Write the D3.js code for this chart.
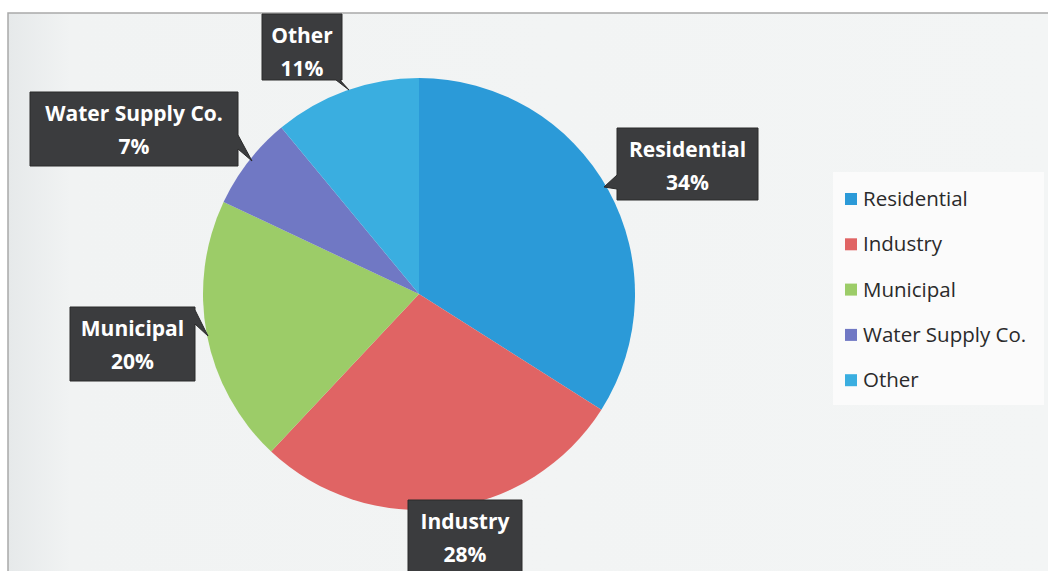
<!DOCTYPE html>
<head>
    <meta charset="utf-8">
    <title>Water use pie</title>
    <style>
        body { margin: 0; background: #fff; }
        text { font-family: "Open Sans", "Noto Sans", sans-serif; }
    </style>
</head>
<body>
    <svg width="1048" height="571"></svg>
    <script src="https://d3js.org/d3.v7.min.js"></script>
    <script>

        var categories = ["Residential", "Industry", "Municipal", "Water Supply Co.", "Other"];
        var shares = [34, 28, 20, 7, 11];
        var colors = ["#2b9ad8", "#e06464", "#9ccc68", "#7078c4", "#3aaee0"];

        var data = categories.map(function (c, i) { return { name: c, value: shares[i] }; });

        var svg = d3.select("svg");

        // chart area
        var defs = svg.append("defs");
        var grad = defs.append("linearGradient").attr("id", "bg").attr("x1", 0).attr("x2", 1);
        grad.append("stop").attr("offset", "0%").attr("stop-color", "#e6e9ea");
        grad.append("stop").attr("offset", "6%").attr("stop-color", "#f1f3f3");
        grad.append("stop").attr("offset", "100%").attr("stop-color", "#f3f5f5");

        svg.append("rect")
            .attr("x", 8).attr("y", 13).attr("width", 1045).attr("height", 565)
            .attr("fill", "url(#bg)")
            .attr("stroke", "#a9a9a9").attr("stroke-width", 1.5);

        var cx = 419, cy = 294, r = 216;

        var pie = d3.pie().sort(null).value(function (d) { return d.value; });
        var arc = d3.arc().innerRadius(0).outerRadius(r);
        var arcs = pie(data);

        var g = svg.append("g").attr("transform", "translate(" + cx + "," + cy + ")");

        g.selectAll(".slice")
            .data(arcs)
            .enter().append("path")
            .attr("class", "slice")
            .attr("fill", function (d, i) { return colors[i]; })
            .attr("d", arc);

        // callout boxes: [x, y, w, h] and pointer tip (page coords)
        var callouts = [
            { box: [617, 128, 141, 72], tip: [604, 187], side: "left" },
            { box: [408, 500, 114, 80], tip: null },
            { box: [70, 307, 125, 74], tip: [208, 336], side: "right" },
            { box: [30, 92, 208, 74], tip: [252, 161], side: "right" },
            { box: [262, 14, 80, 66], tip: [349, 90], side: "bottom" }
        ];

        function calloutPath(c) {
            var x = c.box[0], y = c.box[1], w = c.box[2], h = c.box[3];
            var p = d3.path();
            p.moveTo(x, y);
            p.lineTo(x + w, y);
            if (c.side === "right") {
                var py = Math.min(y + h - 6, Math.max(y + 10, c.tip[1] - 16));
                p.lineTo(x + w, py - 10);
                p.lineTo(c.tip[0], c.tip[1]);
                p.lineTo(x + w, py + 4);
            }
            p.lineTo(x + w, y + h);
            if (c.side === "bottom") {
                p.lineTo(x + w - 2, y + h);
                p.lineTo(c.tip[0], c.tip[1]);
                p.lineTo(x + w - 6, y + h);
            }
            p.lineTo(x, y + h);
            if (c.side === "left") {
                var ly = Math.min(y + h - 6, c.tip[1] + 2);
                p.lineTo(x, ly);
                p.lineTo(c.tip[0], c.tip[1]);
                p.lineTo(x, ly - 14);
            }
            p.closePath();
            return p.toString();
        }

        var labels = svg.selectAll(".callout")
            .data(arcs)
            .enter().append("g")
            .attr("class", "callout");

        labels.append("path")
            .attr("d", function (d, i) { return calloutPath(callouts[i]); })
            .attr("fill", "#3b3c3e")
            .attr("stroke", "#2a2a2a")
            .attr("stroke-width", 1);

        labels.append("text")
            .attr("x", function (d, i) { return callouts[i].box[0] + callouts[i].box[2] / 2; })
            .attr("y", function (d, i) { return callouts[i].box[1] + 29; })
            .attr("text-anchor", "middle")
            .style("font-size", "21px")
            .style("font-weight", "bold")
            .attr("fill", "#ffffff")
            .text(function (d) { return d.data.name; });

        labels.append("text")
            .attr("x", function (d, i) { return callouts[i].box[0] + callouts[i].box[2] / 2; })
            .attr("y", function (d, i) { return callouts[i].box[1] + 62; })
            .attr("text-anchor", "middle")
            .style("font-size", "21px")
            .style("font-weight", "bold")
            .attr("fill", "#ffffff")
            .text(function (d) { return d.data.value + "%"; });

        // legend
        var legend = svg.append("g").attr("transform", "translate(833,172)");
        legend.append("rect")
            .attr("width", 211).attr("height", 233)
            .attr("fill", "#fbfbfb");

        var item = legend.selectAll(".item")
            .data(categories)
            .enter().append("g")
            .attr("class", "item")
            .attr("transform", function (d, i) { return "translate(0," + (27 + i * 45.3) + ")"; });

        item.append("rect")
            .attr("x", 12).attr("y", -6).attr("width", 12).attr("height", 12)
            .attr("fill", function (d, i) { return colors[i]; });

        item.append("text")
            .attr("x", 30).attr("y", 7)
            .style("font-size", "20.5px")
            .attr("fill", "#2a2a2a")
            .text(function (d) { return d; });

    </script>
</body>
